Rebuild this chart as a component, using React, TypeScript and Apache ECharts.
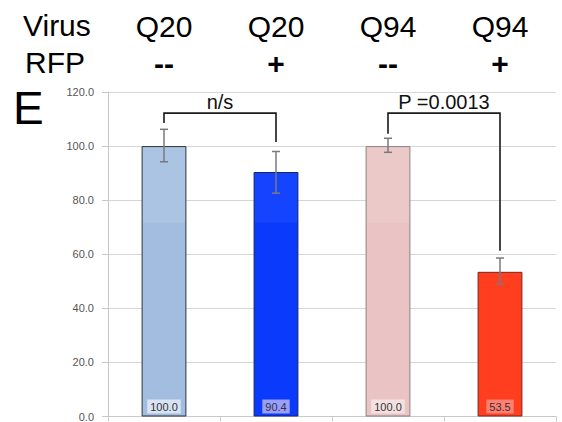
import React, { useEffect, useRef } from "react";
import * as echarts from "echarts";

const categories = ["Q20 --", "Q20 +", "Q94 --", "Q94 +"];
const virusLabels = ["Q20", "Q20", "Q94", "Q94"];
const rfpLabels = ["--", "+", "--", "+"];
const values = [100.0, 90.4, 100.0, 53.5];
const errLow = [94.2, 82.6, 97.7, 49.0];
const errHigh = [106.2, 98.0, 102.9, 58.6];
const barColors = ["#a2bddf", "#0a3bfc", "#eac4c4", "#ff3d1f"];
const barTopColors = ["#abc4e3", "#1444fd", "#ecc9c9", "#ff3d1f"];
const barBorders = ["#2b3440", "#12236a", "#8c8080", "#7a2416"];
const labelBgs = ["rgba(235,240,248,0.75)", "rgba(170,170,255,0.9)", "rgba(245,232,232,0.8)", "rgba(255,150,140,0.75)"];
const yTicks = [0, 20, 40, 60, 80, 100, 120];
const shadeLevel = 72; // value at which the lighter upper shading of each bar ends
// brackets: [leftIdx, rightIdx, top, leftEnd, rightEnd]
const brackets = [
  [0, 1, 112.2, 108.5, 101.5],
  [2, 3, 112.2, 104.6, 61.3],
];
const bracketLabels = ["n/s", "P =0.0013"];

const FONT = "'Liberation Sans', Arial, Helvetica, sans-serif";

export default function App() {
  const ref = useRef<HTMLDivElement>(null);
  useEffect(() => {
    const chart = echarts.init(ref.current!, null, { renderer: "svg" });
    chart.setOption({
      animation: false,
      backgroundColor: "#ffffff",
      grid: { left: 108, right: 6, top: 92, bottom: 3, containLabel: false },
      xAxis: [
        {
          type: "category",
          data: categories,
          gridIndex: 0,
          position: "bottom",
          axisLine: { show: true, lineStyle: { color: "#c8c8c8", width: 1 } },
          axisTick: { show: true, length: 5, lineStyle: { color: "#c8c8c8" } },
          axisLabel: { show: false },
        },
        {
          type: "category",
          data: categories,
          gridIndex: 0,
          position: "top",
          axisLine: { show: false },
          axisTick: { show: false },
          axisLabel: {
            show: true,
            margin: 10,
            formatter: (_v: string, i: number) => `{v|${virusLabels[i]}}\n{r|${rfpLabels[i]}}`,
            rich: {
              v: { fontSize: 30, lineHeight: 37, fontFamily: FONT, color: "#000" },
              r: { fontSize: 30, lineHeight: 37, fontFamily: FONT, color: "#000", fontWeight: "bold" },
            },
          },
        },
      ],
      yAxis: {
        type: "value",
        min: yTicks[0],
        max: yTicks[yTicks.length - 1],
        interval: 20,
        axisLine: { show: true, lineStyle: { color: "#c8c8c8" } },
        axisTick: { show: true, length: 6, lineStyle: { color: "#c8c8c8" } },
        splitLine: { show: true, lineStyle: { color: "#d6d6d6", width: 1.2 } },
        axisLabel: {
          margin: 14,
          fontSize: 11,
          fontFamily: FONT,
          color: "#555",
          formatter: (v: number) => v.toFixed(1),
        },
      },
      graphic: [
        { type: "text", left: 23, top: 10, style: { text: "Virus", fontSize: 30, fontFamily: FONT, fill: "#000" } },
        { type: "text", left: 25, top: 47, style: { text: "RFP", fontSize: 30, fontFamily: FONT, fill: "#000" } },
        { type: "text", left: 13, top: 85, style: { text: "E", fontSize: 46, fontFamily: FONT, fill: "#000" } },
      ],
      series: [
        {
          type: "bar",
          xAxisIndex: 0,
          barWidth: "40%",
          data: values.map((v, i) => {
            const off = Math.max(0, (v - shadeLevel) / v);
            return {
              value: v,
              itemStyle: {
                color: off > 0
                  ? {
                      type: "linear", x: 0, y: 0, x2: 0, y2: 1,
                      colorStops: [
                        { offset: 0, color: barTopColors[i] },
                        { offset: off, color: barTopColors[i] },
                        { offset: off + 0.005, color: barColors[i] },
                        { offset: 1, color: barColors[i] },
                      ],
                    }
                  : barColors[i],
                borderColor: barBorders[i],
                borderWidth: 1,
              },
              label: { backgroundColor: labelBgs[i] },
            };
          }),
          label: {
            show: true,
            position: "insideBottom",
            distance: 3,
            fontSize: 11,
            fontFamily: FONT,
            color: "#333",
            padding: [2, 3, 1, 3],
            formatter: (p: any) => Number(p.value).toFixed(1),
          },
          z: 2,
        },
        {
          type: "custom",
          xAxisIndex: 0,
          data: values.map((_, i) => [i, errLow[i], errHigh[i]]),
          renderItem: (params: any, api: any) => {
            const x = api.value(0);
            const lo = api.coord([x, api.value(1)]);
            const hi = api.coord([x, api.value(2)]);
            const cap = 4;
            const style = { stroke: "#7a7a7a", lineWidth: 1.5 };
            return {
              type: "group",
              children: [
                { type: "line", shape: { x1: hi[0], y1: hi[1], x2: lo[0], y2: lo[1] }, style },
                { type: "line", shape: { x1: hi[0] - cap, y1: hi[1], x2: hi[0] + cap, y2: hi[1] }, style },
                { type: "line", shape: { x1: lo[0] - cap, y1: lo[1], x2: lo[0] + cap, y2: lo[1] }, style },
              ],
            };
          },
          z: 5,
        },
        {
          type: "custom",
          xAxisIndex: 0,
          data: brackets,
          renderItem: (params: any, api: any) => {
            const a = api.value(0);
            const b = api.value(1);
            const top = api.value(2);
            const p1 = api.coord([a, api.value(3)]);
            const p2 = api.coord([a, top]);
            const p3 = api.coord([b, top]);
            const p4 = api.coord([b, api.value(4)]);
            return {
              type: "group",
              children: [
                {
                  type: "polyline",
                  shape: { points: [p1, p2, p3, p4] },
                  style: { stroke: "#1a1a1a", lineWidth: 1.6, fill: "none" },
                },
                {
                  type: "text",
                  x: (p2[0] + p3[0]) / 2,
                  y: p2[1] - 1,
                  style: {
                    text: bracketLabels[params.dataIndex],
                    fontSize: 20,
                    fontFamily: FONT,
                    fill: "#111",
                    align: "center",
                    verticalAlign: "bottom",
                  },
                },
              ],
            };
          },
          z: 6,
        },
      ],
    });
    return () => chart.dispose();
  }, []);
  return <div ref={ref} style={{ width: 562, height: 422, position: "absolute", left: 0, top: 0 }} />;
}
